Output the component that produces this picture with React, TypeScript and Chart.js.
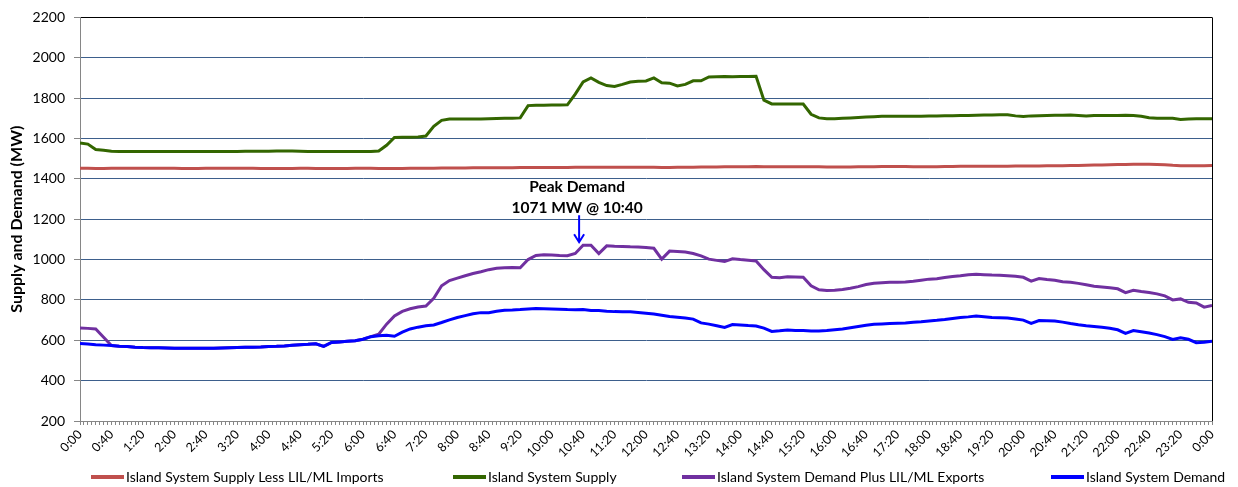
import React, { useEffect, useRef } from 'react';
import { Chart, registerables } from 'chart.js';

Chart.register(...registerables);

const FONT = 'Lato, "Open Sans", "DejaVu Sans", sans-serif';

const seriesNames = [
  'Island System Supply Less LIL/ML Imports',
  'Island System Supply',
  'Island System Demand Plus LIL/ML Exports',
  'Island System Demand',
];

const seriesColors = ['#C0504D', '#336600', '#7030A0', '#0000FF'];

const xTickLabels = [
  '0:00', '0:40', '1:20', '2:00', '2:40', '3:20', '4:00', '4:40', '5:20', '6:00',
  '6:40', '7:20', '8:00', '8:40', '9:20', '10:00', '10:40', '11:20', '12:00', '12:40',
  '13:20', '14:00', '14:40', '15:20', '16:00', '16:40', '17:20', '18:00', '18:40', '19:20',
  '20:00', '20:40', '21:20', '22:00', '22:40', '23:20', '0:00',
];

// minutes since midnight, every 10 minutes (0:00 .. 24:00)
const minutes = Array.from({ length: 145 }, (_, i) => i * 10);

const supplyLessImports = [
  1452, 1452, 1451, 1451, 1452, 1452, 1452, 1452, 1452, 1452, 1452, 1452,
  1452, 1451, 1451, 1451, 1452, 1452, 1452, 1452, 1452, 1452, 1452, 1451,
  1451, 1451, 1451, 1451, 1452, 1452, 1451, 1451, 1451, 1451, 1451, 1452,
  1452, 1452, 1451, 1451, 1451, 1451, 1452, 1452, 1453, 1453, 1454, 1454,
  1454, 1454, 1455, 1455, 1455, 1455, 1455, 1455, 1456, 1456, 1456, 1456,
  1456, 1456, 1456, 1457, 1457, 1457, 1458, 1458, 1458, 1458, 1458, 1457,
  1457, 1457, 1456, 1456, 1457, 1458, 1458, 1459, 1459, 1459, 1460, 1460,
  1460, 1460, 1461, 1460, 1460, 1460, 1460, 1460, 1460, 1460, 1460, 1459,
  1459, 1459, 1459, 1460, 1460, 1460, 1461, 1461, 1461, 1461, 1460, 1460,
  1460, 1460, 1461, 1461, 1462, 1462, 1463, 1463, 1463, 1463, 1463, 1464,
  1464, 1464, 1464, 1465, 1465, 1465, 1466, 1466, 1467, 1468, 1469, 1470,
  1471, 1471, 1472, 1472, 1472, 1471, 1470, 1467, 1465, 1465, 1465, 1465,
  1466,
];

const islandSupply = [
  1578, 1572, 1545, 1542, 1537, 1536, 1536, 1536, 1536, 1536, 1536, 1536,
  1536, 1536, 1536, 1536, 1536, 1536, 1536, 1536, 1536, 1537, 1537, 1537,
  1537, 1538, 1538, 1538, 1537, 1536, 1535, 1535, 1535, 1535, 1535, 1536,
  1536, 1536, 1538, 1566, 1605, 1606, 1606, 1607, 1612, 1660, 1690, 1696,
  1696, 1696, 1696, 1697, 1698, 1699, 1700, 1700, 1702, 1763, 1765, 1765,
  1766, 1766, 1767, 1820, 1880, 1900, 1878, 1862, 1858, 1868, 1880, 1884,
  1885, 1900, 1876, 1874, 1860, 1868, 1886, 1886, 1905, 1906, 1907, 1906,
  1907, 1907, 1908, 1790, 1771, 1771, 1771, 1771, 1771, 1720, 1702, 1698,
  1698, 1700, 1702, 1704, 1706, 1708, 1710, 1710, 1710, 1710, 1710, 1710,
  1712, 1712, 1713, 1713, 1714, 1714, 1715, 1716, 1716, 1718, 1718, 1712,
  1709, 1712, 1713, 1714, 1715, 1715, 1716, 1714, 1712, 1714, 1714, 1714,
  1714, 1715, 1714, 1710, 1703, 1700, 1700, 1700, 1694, 1697, 1698, 1698,
  1698,
];

const demandPlusExports = [
  661, 659, 656, 615, 574, 571, 569, 566, 564, 563, 563, 562,
  561, 561, 560, 560, 560, 561, 562, 563, 564, 565, 566, 567,
  569, 570, 572, 575, 578, 580, 583, 570, 589, 592, 595, 598,
  605, 618, 630, 680, 720, 743, 756, 765, 770, 808, 870, 896,
  908, 920, 931, 940, 950, 957, 960, 961, 959, 1000, 1020, 1024,
  1022, 1020, 1019, 1030, 1071, 1071, 1030, 1068, 1066, 1065, 1063, 1062,
  1060, 1056, 1002, 1042, 1040, 1037, 1030, 1018, 1002, 996, 990, 1004,
  1000, 997, 993, 950, 912, 910, 915, 914, 912, 870, 850, 847,
  848, 852, 858, 866, 876, 883, 885, 887, 888, 889, 893, 898,
  903, 905, 911, 916, 920, 925, 927, 925, 923, 922, 920, 917,
  912, 893, 906, 901, 897, 890, 887, 882, 875, 868, 864, 860,
  855, 836, 848, 842, 837, 830, 820, 800, 805, 788, 785, 764,
  772,
];

const islandDemand = [
  584, 581, 578, 576, 574, 571, 569, 566, 564, 563, 563, 562,
  561, 561, 560, 560, 560, 561, 562, 563, 564, 565, 566, 567,
  569, 570, 572, 575, 578, 580, 583, 570, 589, 592, 595, 598,
  605, 618, 622, 625, 620, 640, 656, 665, 672, 676, 688, 701,
  713, 722, 731, 737, 737, 744, 749, 750, 752, 755, 757, 756,
  755, 754, 752, 751, 752, 748, 747, 744, 742, 741, 741, 738,
  734, 730, 724, 718, 714, 710, 705, 686, 680, 672, 664, 678,
  676, 673, 671, 660, 644, 647, 651, 649, 648, 646, 646, 648,
  652, 656, 662, 668, 674, 679, 681, 683, 685, 686, 689, 692,
  696, 699, 703, 708, 713, 716, 720, 717, 713, 712, 710, 705,
  700, 684, 698, 697, 695, 690, 683, 677, 672, 668, 664, 660,
  652, 634, 648, 642, 636, 628, 618, 604, 612, 605, 588, 590,
  595,
];

const peakLabel = ['Peak Demand', '1071 MW @ 10:40'];
const peakMinute = 640;
const peakValue = 1071;

const framePlugin = {
  id: 'frame',
  afterDraw(chart: any) {
    const { ctx, chartArea } = chart;
    ctx.save();
    ctx.strokeStyle = '#000';
    ctx.lineWidth = 1;
    ctx.beginPath();
    ctx.moveTo(Math.round(chartArea.right) + 0.5, chartArea.top);
    ctx.lineTo(Math.round(chartArea.right) + 0.5, chartArea.bottom);
    ctx.stroke();
    ctx.restore();
  },
};

const peakPlugin = {
  id: 'peak',
  afterDatasetsDraw(chart: any) {
    const { ctx, scales } = chart;
    const x = scales.x.getPixelForValue(peakMinute) - 4;
    const tip = scales.y.getPixelForValue(peakValue) - 3;
    ctx.save();
    ctx.fillStyle = '#000';
    ctx.font = `bold 15.5px ${FONT}`;
    ctx.textAlign = 'center';
    ctx.textBaseline = 'middle';
    ctx.fillText(peakLabel[0], x - 2, tip - 55);
    ctx.fillText(peakLabel[1], x - 2, tip - 34);
    ctx.strokeStyle = '#0000FF';
    ctx.lineWidth = 2;
    ctx.beginPath();
    ctx.moveTo(x, tip - 27);
    ctx.lineTo(x, tip);
    ctx.moveTo(x - 5, tip - 8);
    ctx.lineTo(x, tip);
    ctx.lineTo(x + 5, tip - 8);
    ctx.stroke();
    ctx.restore();
  },
};

const legendX = [91, 453, 682, 1051];

const legendPlugin = {
  id: 'customLegend',
  afterDraw(chart: any) {
    const { ctx } = chart;
    const y = 477;
    ctx.save();
    ctx.font = `14px ${FONT}`;
    ctx.textBaseline = 'middle';
    ctx.textAlign = 'left';
    seriesNames.forEach((name, i) => {
      const x = legendX[i];
      ctx.strokeStyle = seriesColors[i];
      ctx.lineWidth = 4;
      ctx.beginPath();
      ctx.moveTo(x, y);
      ctx.lineTo(x + 33, y);
      ctx.stroke();
      ctx.fillStyle = '#000';
      ctx.fillText(name, x + 35, y);
    });
    ctx.restore();
  },
};

export default function App() {
  const ref = useRef<HTMLCanvasElement>(null);

  useEffect(() => {
    const toPts = (arr: number[]) => arr.map((y, i) => ({ x: minutes[i], y }));
    const values = [supplyLessImports, islandSupply, demandPlusExports, islandDemand];
    const orders = [3, 2, 1, 0];
    const chart = new Chart(ref.current as HTMLCanvasElement, {
      type: 'line',
      data: {
        datasets: seriesNames.map((name, i) => ({
          label: name,
          data: toPts(values[i]),
          borderColor: seriesColors[i],
          backgroundColor: seriesColors[i],
          borderWidth: 3,
          pointRadius: 0,
          tension: 0,
          fill: false,
          order: orders[i],
        })),
      },
      options: {
        animation: false,
        responsive: false,
        events: [],
        layout: { padding: { top: 12, right: 26, left: 0, bottom: 0 } },
        plugins: { legend: { display: false }, tooltip: { enabled: false } },
        scales: {
          x: {
            type: 'linear',
            min: 0,
            max: 1440,
            ticks: {
              stepSize: 5,
              autoSkip: false,
              maxRotation: 45,
              minRotation: 45,
              padding: 2,
              color: '#000',
              font: { family: FONT, size: 12.5 },
              callback: (_v: any, index: number) => (index % 8 === 0 ? xTickLabels[index / 8] : ''),
            },
            grid: { drawOnChartArea: false, drawTicks: true, tickLength: 4, color: '#868686' },
            border: { color: '#868686' },
            afterFit: (s: any) => {
              s.height = 66;
            },
          },
          y: {
            min: 200,
            max: 2200,
            ticks: {
              stepSize: 200,
              padding: 9,
              color: '#000',
              font: { family: FONT, size: 14 },
              callback: (v: any) => String(v),
            },
            grid: {
              color: (c: any) =>
                c.tick && c.tick.value === 2200 ? '#000000' : c.tick && c.tick.value === 200 ? '#868686' : '#3d5f8c',
              tickColor: '#868686',
              tickLength: 6,
            },
            border: { color: '#868686' },
            title: {
              display: true,
              text: 'Supply and Demand (MW)',
              color: '#000',
              font: { family: FONT, size: 16, weight: 'bold' },
              padding: { top: 7, bottom: 0 },
            },
            afterFit: (s: any) => {
              s.width = 80;
            },
          },
        },
      } as any,
      plugins: [framePlugin, peakPlugin, legendPlugin],
    });
    return () => chart.destroy();
  }, []);

  return (
    <div style={{ position: 'fixed', left: 0, top: 0, width: 1238, height: 487, background: '#fff' }}>
      <canvas ref={ref} width={1238} height={487} style={{ display: 'block', width: 1238, height: 487 }} />
    </div>
  );
}
